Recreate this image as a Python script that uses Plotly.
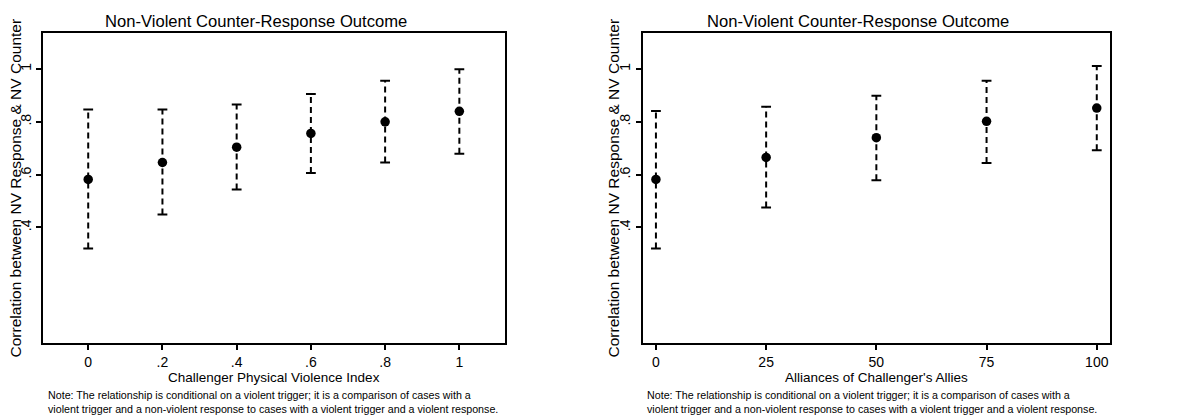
import plotly.graph_objects as go

W, H = 1185, 415

# ---- data ----
left_x = [0, 0.2, 0.4, 0.6, 0.8, 1.0]
left_est = [0.582, 0.646, 0.704, 0.756, 0.800, 0.840]
left_hi = [0.847, 0.847, 0.866, 0.905, 0.956, 0.999]
left_lo = [0.320, 0.449, 0.544, 0.606, 0.646, 0.679]
left_ticks = [0, 0.2, 0.4, 0.6, 0.8, 1.0]
left_ticklabels = ["0", ".2", ".4", ".6", ".8", "1"]

right_x = [0, 25, 50, 75, 100]
right_est = [0.582, 0.665, 0.740, 0.802, 0.852]
right_hi = [0.841, 0.857, 0.899, 0.956, 1.011]
right_lo = [0.320, 0.476, 0.579, 0.644, 0.692]
right_ticks = [0, 25, 50, 75, 100]
right_ticklabels = ["0", "25", "50", "75", "100"]

y_ticks = [0.4, 0.6, 0.8, 1.0]
y_ticklabels = [".4", ".6", ".8", "1"]

title_text = "Non-Violent Counter-Response Outcome"
ytitle_text = "Correlation between NV Response & NV Counter"
left_xtitle = "Challenger Physical Violence Index"
right_xtitle = "Alliances of Challenger's Allies"
note_text = ("Note: The relationship is conditional on a violent trigger; it is a comparison of cases with a<br>"
             "violent trigger and a non-violent response to cases with a violent trigger and a violent response.")

FONT = "Liberation Sans, Arial, sans-serif"


def px(x):
    return x / W


def py(y):
    return 1 - y / H


fig = go.Figure()


def add_panel(xs, est, lo, hi, xa, ya):
    lx, ly = [], []
    for x, l, h in zip(xs, lo, hi):
        lx += [x, x, None]
        ly += [l, h, None]
    fig.add_trace(go.Scatter(x=lx, y=ly, mode="lines", xaxis=xa, yaxis=ya,
                             line=dict(color="black", width=2, dash="6px,4px"),
                             showlegend=False, hoverinfo="skip"))
    fig.add_trace(go.Scatter(x=list(xs) + list(xs), y=list(lo) + list(hi), mode="markers",
                             xaxis=xa, yaxis=ya,
                             marker=dict(symbol="line-ew", size=7, color="black",
                                         line=dict(color="black", width=2)),
                             showlegend=False, hoverinfo="skip"))
    fig.add_trace(go.Scatter(x=xs, y=est, mode="markers", xaxis=xa, yaxis=ya,
                             marker=dict(symbol="circle", size=9.5, color="black"),
                             showlegend=False))


add_panel(left_x, left_est, left_lo, left_hi, "x", "y")
add_panel(right_x, right_est, right_lo, right_hi, "x2", "y2")

y_top, y_bot = 33.3, 343.3
yr = [-0.0387, 1.1353]

axis_common = dict(showline=True, mirror=True, linecolor="black", linewidth=2,
                   ticks="outside", ticklen=5, tickwidth=1.5, tickcolor="black",
                   showgrid=False, zeroline=False,
                   tickfont=dict(family=FONT, size=14, color="black"))

fig.update_layout(
    width=W, height=H,
    margin=dict(l=0, r=0, t=0, b=0),
    paper_bgcolor="white", plot_bgcolor="white",
    xaxis=dict(domain=[px(43.3), px(505)], range=[-0.121, 1.123],
               tickvals=left_ticks, ticktext=left_ticklabels, anchor="y", **axis_common),
    yaxis=dict(domain=[py(y_bot), py(y_top)], range=yr, tickvals=y_ticks,
               ticktext=y_ticklabels, tickangle=-90, anchor="x", **axis_common),
    xaxis2=dict(domain=[px(642.7), px(1110)], range=[-3.0, 103.0],
                tickvals=right_ticks, ticktext=right_ticklabels, anchor="y2", **axis_common),
    yaxis2=dict(domain=[py(y_bot), py(y_top)], range=yr, tickvals=y_ticks,
                ticktext=y_ticklabels, tickangle=-90, anchor="x2", **axis_common),
)

anns = []
for cx_title, cx_plot, left_note, ytx, xt in [(255.5, 274, 46, 14.5, left_xtitle),
                                              (857.7, 876, 645.3, 612.5, right_xtitle)]:
    anns.append(dict(text=title_text, x=px(cx_title), y=py(21), xref="paper", yref="paper",
                     xanchor="center", yanchor="middle", showarrow=False,
                     font=dict(family=FONT, size=16.6, color="black")))
    anns.append(dict(text=xt, x=px(cx_plot), y=py(377), xref="paper", yref="paper",
                     xanchor="center", yanchor="middle", showarrow=False,
                     font=dict(family=FONT, size=13.5, color="black")))
    anns.append(dict(text=ytitle_text, x=px(ytx), y=py(188), xref="paper", yref="paper",
                     xanchor="center", yanchor="middle", showarrow=False, textangle=-90,
                     font=dict(family=FONT, size=15.5, color="black")))
    anns.append(dict(text=note_text, x=px(left_note), y=py(401.5), xref="paper", yref="paper",
                     xanchor="left", yanchor="middle", showarrow=False, align="left",
                     font=dict(family=FONT, size=10.7, color="black")))
fig.update_layout(annotations=anns)

fig.write_html("out.html", config={"displayModeBar": False},
               post_script="document.body.style.margin='0';document.body.style.overflow='hidden';")
